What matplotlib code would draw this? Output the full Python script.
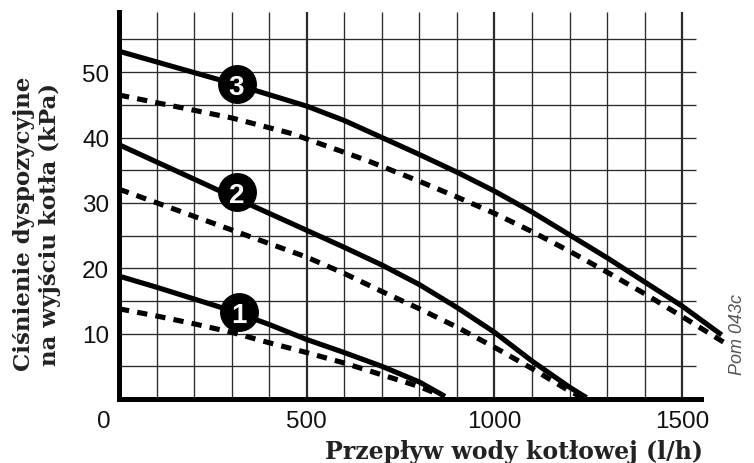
import matplotlib
matplotlib.use("Agg")
import matplotlib.pyplot as plt
import matplotlib.transforms as mtransforms

# ---- data (flow l/h, pressure kPa) ----
x1_solid = [0, 100, 200, 300, 400, 500, 600, 700, 800, 868]
y1_solid = [18.8, 17.1, 15.3, 13.5, 11.4, 9.1, 7.1, 5.0, 2.6, 0.4]
x1_dot = [0, 100, 200, 300, 400, 500, 600, 700, 800, 855]
y1_dot = [13.8, 12.7, 11.5, 10.2, 8.6, 7.1, 5.5, 3.7, 1.9, 0.6]

x2_solid = [0, 300, 500, 600, 700, 800, 900, 1000, 1100, 1200, 1245]
y2_solid = [38.9, 31.0, 25.8, 23.2, 20.5, 17.5, 14.0, 10.2, 5.8, 1.8, 0.2]
x2_dot = [0, 500, 600, 700, 800, 900, 1000, 1100, 1200, 1235]
y2_dot = [32.1, 21.7, 19.2, 16.45, 13.8, 11.0, 7.9, 4.65, 1.2, 0.2]

x3_solid = [0, 300, 500, 600, 700, 800, 900, 1000, 1100, 1200, 1300, 1400, 1500, 1605]
y3_solid = [53.2, 48.3, 44.8, 42.6, 40.0, 37.4, 34.7, 31.8, 28.6, 25.1, 21.6, 17.9, 14.2, 9.8]
x3_dot = [0, 300, 460, 660, 800, 900, 1000, 1100, 1200, 1300, 1400, 1500, 1610]
y3_dot = [46.5, 43.0, 40.6, 36.5, 33.3, 30.9, 28.4, 25.6, 22.6, 19.4, 16.1, 12.6, 8.7]

badge_labels = ["1", "2", "3"]
badge_x = [320, 313, 313]
badge_y = [13.3, 31.6, 48.2]

x_ticks = [0, 500, 1000, 1500]
x_ticklabels = ["0", "500", "1000", "1500"]
y_ticks = [10, 20, 30, 40, 50]
y_ticklabels = ["10", "20", "30", "40", "50"]

v_grid = [100, 200, 300, 400, 500, 600, 700, 800, 900, 1000, 1100, 1200, 1300, 1400, 1500]
h_grid = [5, 10, 15, 20, 25, 30, 35, 40, 45, 50, 55]

xlabel = "Przepływ wody kotłowej (l/h)"
ylabel = "Ciśnienie dyspozycyjne\nna wyjściu kotła (kPa)"
code_text = "Pom 043c"

# ---- figure ----
W, H = 754, 464
fig = plt.figure(figsize=(W / 100, H / 100), dpi=100)
x0_px, y0_px, top_px = 119, 400, 13
xmax, ymax = 1620, 59.2
px_per_x = 0.3755
ax = fig.add_axes([x0_px / W, (H - y0_px) / H,
                   xmax * px_per_x / W, (y0_px - top_px) / H])
ax.set_xlim(0, xmax)
ax.set_ylim(0, ymax)

grid_col = "#2b2b2b"
vw = [1.6 if v % 500 == 0 else 0.95 for v in v_grid]
ax.vlines(v_grid, 0, ymax, colors=grid_col, linewidths=vw, zorder=1)
ax.hlines(h_grid, 0, 1537, colors=grid_col, linewidths=0.95, zorder=1)

lw = 3.7
dash = (2.0, 1.6)
for xs, ys in [(x1_solid, y1_solid), (x2_solid, y2_solid), (x3_solid, y3_solid)]:
    ax.plot(xs, ys, color="black", lw=lw, solid_capstyle="butt",
            solid_joinstyle="round", zorder=3, clip_on=False)
for xs, ys in [(x1_dot, y1_dot), (x2_dot, y2_dot), (x3_dot, y3_dot)]:
    ax.plot(xs, ys, color="black", lw=lw, dashes=dash, dash_capstyle="butt",
            zorder=3, clip_on=False)

ax.plot(badge_x, badge_y, "o", ms=27, color="black", zorder=4, clip_on=False)
for lab, bx, by in zip(badge_labels, badge_x, badge_y):
    ax.text(bx, by, lab, color="white", fontsize=20, fontweight="bold",
            ha="center", va="center_baseline", zorder=5,
            family="Liberation Sans")

# spines
for s in ["top", "right"]:
    ax.spines[s].set_visible(False)
ax.spines["left"].set_linewidth(3.6)
ax.spines["bottom"].set_linewidth(3.6)
ax.spines["bottom"].set_bounds(0, 1550)
ax.spines["left"].set_zorder(6)
ax.spines["bottom"].set_zorder(6)
ax.set_facecolor("none")

ax.set_xticks(x_ticks)
ax.set_xticklabels(x_ticklabels, fontsize=17.5, family="Liberation Sans", color="#111111")
ax.set_yticks(y_ticks)
ax.set_yticklabels(y_ticklabels, fontsize=17.5, family="Liberation Sans", color="#111111")
ax.tick_params(axis="both", length=0)
ax.tick_params(axis="x", pad=8)
ax.tick_params(axis="y", pad=7)
first = ax.get_xticklabels()[0]
first.set_transform(first.get_transform() +
                    mtransforms.ScaledTranslation(-15 / 100, 0, fig.dpi_scale_trans))

fig.text(703 / W, 1 - 452 / H, xlabel, ha="right", va="center",
         fontsize=17, fontweight="bold", family="DejaVu Serif", color="#222222")
fig.text(37 / W, 1 - 224 / H, ylabel, ha="center", va="center", rotation=90,
         fontsize=16.5, fontweight="bold", family="DejaVu Serif", color="#222222",
         linespacing=1.2, multialignment="center")
fig.text(737 / W, 1 - 335 / H, code_text, ha="center", va="center", rotation=90,
         fontsize=13, style="italic", family="Liberation Sans", color="#555555")

fig.savefig("out.png", dpi=100, facecolor="white")
